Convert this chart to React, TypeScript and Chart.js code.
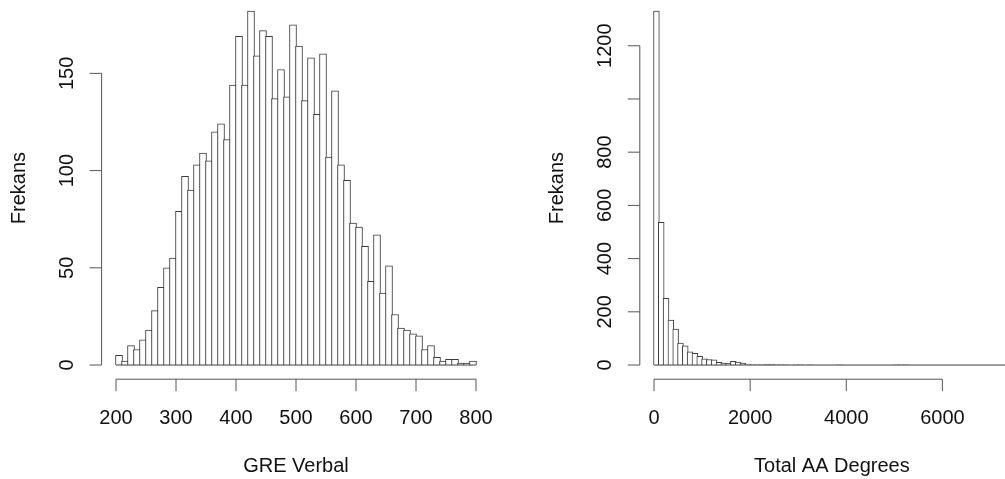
import React, { useEffect, useRef } from 'react';
import { Chart, registerables } from 'chart.js';

Chart.register(...registerables);

// ---- Left histogram: GRE Verbal (bins of 10 from 200 to 800) ----
const greBinStart = 200;
const greBinWidth = 10;
const greCounts = [
  5, 2, 10, 8, 13, 18, 28, 40, 50, 55,
  79, 97, 90, 103, 109, 105, 120, 124, 116, 144,
  169, 144, 182, 159, 172, 169, 137, 152, 138, 175,
  164, 136, 158, 129, 160, 107, 141, 103, 95, 73,
  71, 61, 43, 67, 37, 51, 26, 19, 18, 16,
  15, 8, 10, 4, 2, 3, 3, 1, 1, 2,
];
const greXTicks = [200, 300, 400, 500, 600, 700, 800];
const greYTicks = [0, 50, 100, 150];
const greYTickLabels = ['0', '50', '100', '150'];
const greXTitle = 'GRE Verbal';

// ---- Right histogram: Total AA Degrees (bins of 100 from 0 to 7400) ----
const aaBinStart = 0;
const aaBinWidth = 100;
const aaCounts = [
  1330, 536, 251, 169, 135, 83, 72, 50, 44, 33,
  23, 21, 20, 10, 7, 7, 14, 11, 7, 4,
  1, 1, 1, 2, 2, 1, 1, 1, 0, 1,
  1, 0, 1, 0, 0, 0, 0, 0, 1, 0,
  0, 0, 0, 0, 0, 0, 0, 0, 0, 0,
  1, 1, 1, 0, 0, 0, 0, 0, 0, 0,
  0, 0, 0, 0, 0, 0, 0, 0, 0, 0,
  0, 0, 0, 0,
];
const aaXTicks = [0, 2000, 4000, 6000];
const aaYTicks = [0, 200, 400, 600, 800, 1000, 1200];
const aaYTickLabels = ['0', '200', '400', '600', '800', '', '1200'];
const aaXTitle = 'Total AA Degrees';

const yTitle = 'Frekans';

const FONT = '20px "Liberation Sans", Arial, sans-serif';
const TEXT = '#111111';
const AXIS = '#555555';
const BAR_LINE = '#3c3c3c';

type Spec = {
  binStart: number;
  binWidth: number;
  counts: number[];
  xTicks: number[];
  yTicks: number[];
  yTickLabels: string[];
  xTitle: string;
  padding: { left: number; right: number; top: number; bottom: number };
};

function makeHist(canvas: HTMLCanvasElement, spec: Spec) {
  const n = spec.counts.length;
  const lo = spec.binStart;
  const hi = spec.binStart + n * spec.binWidth;
  const xpad = 0.04 * (hi - lo);
  const ymax = Math.max(...spec.counts);
  const data = spec.counts.map((c, i) => ({ x: lo + (i + 0.5) * spec.binWidth, y: c }));

  const axesPlugin = {
    id: 'rStyleAxes',
    afterDraw(chart: any) {
      const { ctx, chartArea: ca } = chart;
      const x = chart.scales.x;
      const y = chart.scales.y;
      ctx.save();
      ctx.lineWidth = 1;
      // histogram baseline across all breaks
      ctx.strokeStyle = BAR_LINE;
      const y0 = y.getPixelForValue(0);
      ctx.beginPath();
      ctx.moveTo(x.getPixelForValue(lo), y0);
      ctx.lineTo(x.getPixelForValue(hi), y0);
      ctx.stroke();

      ctx.strokeStyle = AXIS;
      // x axis
      const xb = ca.bottom;
      const xt = spec.xTicks.map((v) => x.getPixelForValue(v));
      ctx.beginPath();
      ctx.moveTo(xt[0], xb);
      ctx.lineTo(xt[xt.length - 1], xb);
      xt.forEach((p) => {
        ctx.moveTo(p, xb);
        ctx.lineTo(p, xb + 12);
      });
      ctx.stroke();
      // y axis
      const yt = spec.yTicks.map((v) => y.getPixelForValue(v));
      ctx.beginPath();
      ctx.moveTo(ca.left, yt[0]);
      ctx.lineTo(ca.left, yt[yt.length - 1]);
      yt.forEach((p) => {
        ctx.moveTo(ca.left, p);
        ctx.lineTo(ca.left - 12, p);
      });
      ctx.stroke();

      // text
      ctx.fillStyle = TEXT;
      ctx.font = FONT;
      ctx.textAlign = 'center';
      ctx.textBaseline = 'alphabetic';
      spec.xTicks.forEach((v, i) => ctx.fillText(String(v), xt[i], xb + 44.3));
      ctx.fillText(spec.xTitle, (ca.left + ca.right) / 2, xb + 92.5);
      spec.yTickLabels.forEach((lab, i) => {
        if (!lab) return;
        ctx.save();
        ctx.translate(ca.left - 29, yt[i]);
        ctx.rotate(-Math.PI / 2);
        ctx.fillText(lab, 0, 0);
        ctx.restore();
      });
      ctx.save();
      ctx.translate(ca.left - 77, (ca.top + ca.bottom) / 2);
      ctx.rotate(-Math.PI / 2);
      ctx.fillText(yTitle, 0, 0);
      ctx.restore();
      ctx.restore();
    },
  };

  const chart = new Chart(canvas, {
    type: 'bar',
    data: {
      datasets: [
        {
          data,
          backgroundColor: '#ffffff',
          borderColor: BAR_LINE,
          borderWidth: 1,
          borderSkipped: 'start',
          barPercentage: 1,
          categoryPercentage: 1,
          grouped: false,
        } as any,
      ],
    },
    options: {
      animation: false,
      responsive: false,
      devicePixelRatio: 1,
      events: [],
      layout: { padding: spec.padding },
      plugins: { legend: { display: false }, tooltip: { enabled: false } },
      scales: {
        x: { type: 'linear', display: false, offset: false, min: lo - xpad, max: hi + xpad },
        y: { type: 'linear', display: false, min: -0.04 * ymax, max: 1.04 * ymax },
      },
    } as any,
    plugins: [axesPlugin],
  });

  const xs: any = chart.scales.x;
  const px = Math.abs(xs.getPixelForValue(spec.binWidth) - xs.getPixelForValue(0));
  (chart.data.datasets[0] as any).barThickness = px + 1;
  chart.update('none');
  return chart;
}

export default function App() {
  const leftRef = useRef<HTMLCanvasElement>(null);
  const rightRef = useRef<HTMLCanvasElement>(null);

  useEffect(() => {
    document.body.style.margin = '0';
    const a = makeHist(leftRef.current!, {
      binStart: greBinStart,
      binWidth: greBinWidth,
      counts: greCounts,
      xTicks: greXTicks,
      yTicks: greYTicks,
      yTickLabels: greYTickLabels,
      xTitle: greXTitle,
      padding: { left: 101.6, right: 9.6, top: 0, bottom: 99.8 },
    });
    const b = makeHist(rightRef.current!, {
      binStart: aaBinStart,
      binWidth: aaBinWidth,
      counts: aaCounts,
      xTicks: aaXTicks,
      yTicks: aaYTicks,
      yTickLabels: aaYTickLabels,
      xTitle: aaXTitle,
      padding: { left: 139.8, right: 6.1, top: 0, bottom: 99.8 },
    });
    return () => {
      a.destroy();
      b.destroy();
    };
  }, []);

  return (
    <div
      style={{
        position: 'relative',
        width: 1005,
        height: 479,
        overflow: 'hidden',
        background: '#ffffff',
      }}
    >
      <canvas
        ref={leftRef}
        width={500}
        height={482}
        style={{ position: 'absolute', left: 0, top: -3 }}
      />
      <canvas
        ref={rightRef}
        width={530}
        height={482}
        style={{ position: 'absolute', left: 500, top: -3 }}
      />
    </div>
  );
}
